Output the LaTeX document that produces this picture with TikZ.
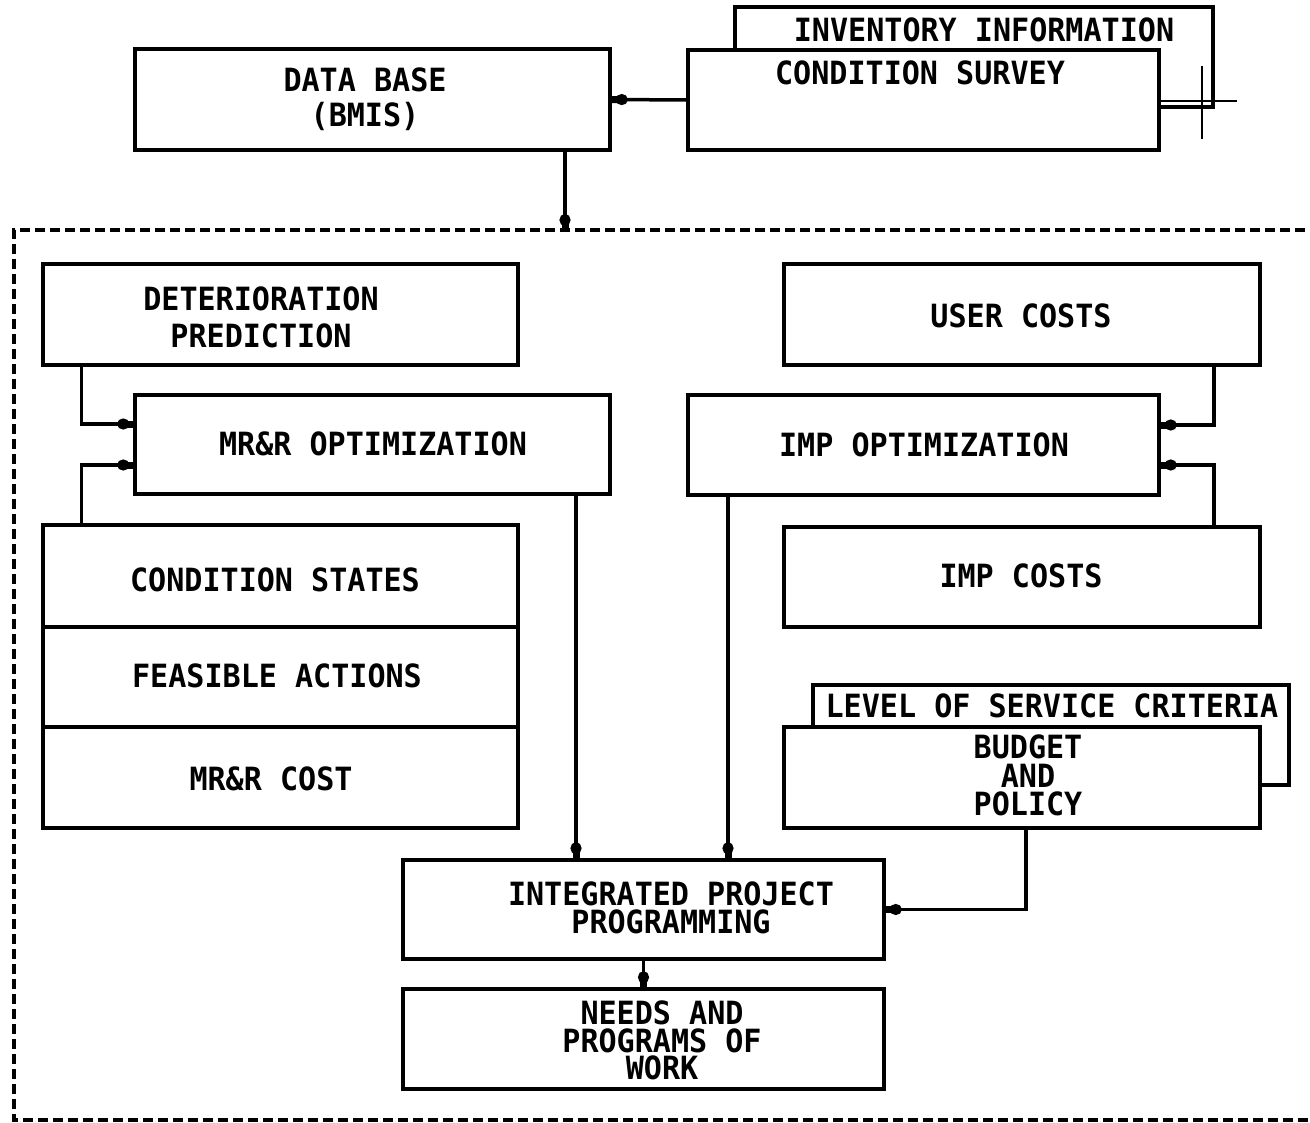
\documentclass[tikz,border=0pt]{standalone}
\usepackage{fontspec}
\newfontfamily\plotfont{DejaVu Sans Mono}[FakeStretch=0.94]
\usetikzlibrary{arrows.meta}
\begin{document}
\begin{tikzpicture}[x=1pt,y=-1pt,
  box/.style={draw, line width=3.5pt, fill=white, inner sep=0pt, rectangle},
  lbl/.style={font=\plotfont\bfseries\fontsize{32}{#1}\selectfont, inner sep=0pt, align=center},
  lbl/.default=35,
  conn/.style={line width=3.5pt, -{Circle[length=12pt,width=11pt,sep=-2pt]Rectangle[length=6pt,width=7pt]}},
  border/.style={line width=3.5pt, dash pattern=on 10pt off 5pt}]
\fill[white] (0,0) rectangle (1310,1123);
\useasboundingbox (0,0) rectangle (1310,1123);

% dashed frame
\draw[border] (1320,230) -- (14,230) -- (14,1120) -- (1320,1120);
\coordinate (bt) at (565,230);

% top boxes
\node[box, minimum width=475pt, minimum height=101pt] (db) at (372.5,99.5) {};
\node[box, minimum width=478pt, minimum height=100pt] (inv) at (974,57) {};
\node[box, minimum width=471pt, minimum height=100pt] (cs) at (923.5,100) {};
\draw[line width=2pt] (1160,101) -- (1237,101);
\draw[line width=1.2pt] (1202,66) -- (1202,139);
\node[lbl] (tdb) at (365,99) {DATA BASE\\(BMIS)};
\node[lbl] (tinv) at (984,30) {INVENTORY INFORMATION};
\node[lbl] (tcs) at (920,73) {CONDITION SURVEY};

% left column
\node[box, minimum width=475pt, minimum height=101pt] (det) at (280.5,314.5) {};
\node[box, minimum width=475pt, minimum height=99pt] (mrr) at (372.5,444.5) {};
\node[box, minimum width=475pt, minimum height=102pt] (cst) at (280.5,576) {};
\node[box, minimum width=475pt, minimum height=100pt] (fa) at (280.5,677) {};
\node[box, minimum width=475pt, minimum height=101pt] (mc) at (280.5,777.5) {};
\node[lbl=37] (tdet) at (261,317.5) {DETERIORATION\\PREDICTION};
\node[lbl] (tmrr) at (373,444) {MR\&R OPTIMIZATION};
\node[lbl] (tcst) at (275,580) {CONDITION STATES};
\node[lbl] (tfa) at (277,676) {FEASIBLE ACTIONS};
\node[lbl] (tmc) at (271,779) {MR\&R COST};

% right column
\node[box, minimum width=476pt, minimum height=101pt] (uc) at (1022,314.5) {};
\node[box, minimum width=471pt, minimum height=100pt] (imp) at (923.5,445) {};
\node[box, minimum width=476pt, minimum height=100pt] (impc) at (1022,577) {};
\node[box, minimum width=476pt, minimum height=100pt] (los) at (1051,735) {};
\node[box, minimum width=476pt, minimum height=101pt] (bp) at (1022,777.5) {};
\node[lbl] (tuc) at (1021,316) {USER COSTS};
\node[lbl] (timp) at (924,445) {IMP OPTIMIZATION};
\node[lbl] (timpc) at (1021,576) {IMP COSTS};
\node[lbl] (tlos) at (1052,706) {LEVEL OF SERVICE CRITERIA};
\node[lbl=28.5] (tbp) at (1028,775.5) {BUDGET\\AND\\POLICY};

% bottom
\node[box, minimum width=481pt, minimum height=99pt] (ipp) at (643.5,909.5) {};
\node[box, minimum width=481pt, minimum height=100pt] (nw) at (643.5,1039) {};
\node[lbl=28] (tipp) at (671,908) {INTEGRATED PROJECT\\PROGRAMMING};
\node[lbl=27.5] (tnw) at (662,1040.5) {NEEDS AND\\PROGRAMS OF\\WORK};

% connectors
\draw[conn] (cs.west) -- (db.east);
\draw[conn] (db.south -| bt) -- (bt);
\draw[conn] ([xshift=40pt]det.south west) |- ([yshift=20.5pt]mrr.west);
\draw[conn] ([xshift=40pt]cst.north west) |- ([yshift=-20.5pt]mrr.west);
\draw[conn] ([xshift=-48pt]uc.south east) |- ([yshift=20pt]imp.east);
\draw[conn] ([xshift=-48pt]impc.north east) |- ([yshift=-20pt]imp.east);
\coordinate (m1) at ([xshift=203.5pt]mrr.south);
\coordinate (m2) at ([xshift=-195.5pt]imp.south);
\draw[conn] (m1) -- (m1 |- ipp.north);
\draw[conn] (m2) -- (m2 |- ipp.north);
\draw[conn] ([xshift=4pt]bp.south) |- (ipp.east);
\draw[conn] (ipp.south) -- (nw.north);
\end{tikzpicture}
\end{document}
